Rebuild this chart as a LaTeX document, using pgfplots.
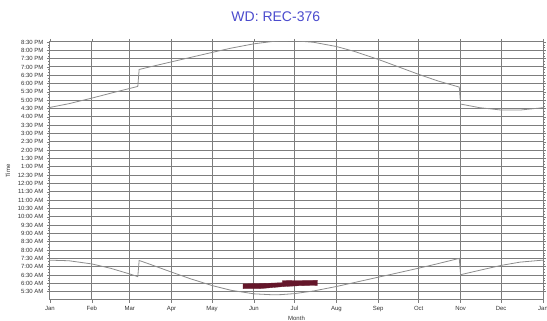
\documentclass[border=0pt]{standalone}
\usepackage{fontspec}
\setmainfont{Liberation Sans}
\usepackage{pgfplots}
\pgfplotsset{compat=1.18}
\definecolor{gridgray}{RGB}{125,125,125}
\definecolor{curvegray}{RGB}{140,140,140}
\definecolor{maroon}{RGB}{100,22,42}
\definecolor{titleblue}{RGB}{75,75,205}
\begin{document}
\begin{tikzpicture}
\begin{axis}[
  scale only axis, width=493pt, height=258pt,
  xmin=0, xmax=365, ymin=5, ymax=20.5,
  xtick={0,31,59,90,120,151,181,212,243,273,304,334,365},
  xticklabels={Jan,Feb,Mar,Apr,May,Jun,Jul,Aug,Sep,Oct,Nov,Dec,Jan},
  minor x tick num=3,
  ytick={5.5,6,6.5,7,7.5,8,8.5,9,9.5,10,10.5,11,11.5,12,12.5,13,13.5,14,14.5,15,15.5,16,16.5,17,17.5,18,18.5,19,19.5,20,20.5},
  yticklabels={5:30 AM,6:00 AM,6:30 AM,7:00 AM,7:30 AM,8:00 AM,8:30 AM,9:00 AM,9:30 AM,10:00 AM,10:30 AM,11:00 AM,11:30 AM,12:00 PM,12:30 PM,1:00 PM,1:30 PM,2:00 PM,2:30 PM,3:00 PM,3:30 PM,4:00 PM,4:30 PM,5:00 PM,5:30 PM,6:00 PM,6:30 PM,7:00 PM,7:30 PM,8:00 PM,8:30 PM},
  minor y tick num=2,
  tick align=outside,
  major tick length=3pt, minor tick length=1.5pt,
  every tick/.style={gridgray, line width=0.5pt},
  grid=major,
  major grid style={gridgray, line width=1pt},
  axis line style={gridgray, line width=1pt},
  tick label style={font=\fontsize{6}{7}\selectfont, text=black!80},
  xlabel=Month, ylabel=Time,
  label style={font=\fontsize{6}{7}\selectfont, text=black!80},
  xlabel style={at={(axis description cs:0.5,-0.07)},anchor=center},
  ylabel style={at={(axis description cs:-0.085,0.5)},anchor=center},
  title={WD: REC-376},
  title style={at={(axis description cs:0.458,1)}, anchor=center, yshift=19pt, font=\fontsize{14}{16}\selectfont, text=titleblue},
]
% sunrise
\addplot[curvegray, line width=0.8pt] coordinates {
(0,7.393)(14,7.358)(31,7.166)(45,6.902)(59,6.564)(65,6.401)(66,7.375)(73,7.176)
(90,6.675)(104,6.275)(120,5.868)(134,5.584)(151,5.370)(165,5.313)(171,5.323)
(181,5.383)(195,5.541)(212,5.810)(226,6.061)(243,6.369)(257,6.620)(273,6.913)
(287,7.179)(303,7.501)(304,6.521)(318,6.783)(334,7.078)(348,7.275)(364,7.389)(365,7.39)};
% sunset
\addplot[curvegray, line width=0.8pt] coordinates {
(0,16.571)(14,16.794)(31,17.130)(45,17.424)(59,17.710)(65,17.831)(66,18.849)(73,18.986)
(90,19.309)(104,19.573)(120,19.874)(134,20.130)(151,20.392)(165,20.533)(171,20.565)
(181,20.573)(195,20.485)(212,20.230)(226,19.919)(243,19.455)(257,19.036)(273,18.555)
(287,18.165)(303,17.791)(304,16.771)(318,16.555)(334,16.412)(348,16.411)(364,16.545)(365,16.55)};
% activity band
\addplot[fill=maroon, draw=maroon, line width=0.3pt] coordinates {
(143,5.70)(143,5.97)(160,6.00)(172,6.04)(172,6.16)(198,6.18)(198,5.88)(185,5.86)(172,5.80)(155,5.68)(143,5.68)} -- cycle;
\end{axis}
\pgfresetboundingbox
\path[use as bounding box] (-50pt,-21pt) rectangle (497pt,300pt);
\end{tikzpicture}
\end{document}
